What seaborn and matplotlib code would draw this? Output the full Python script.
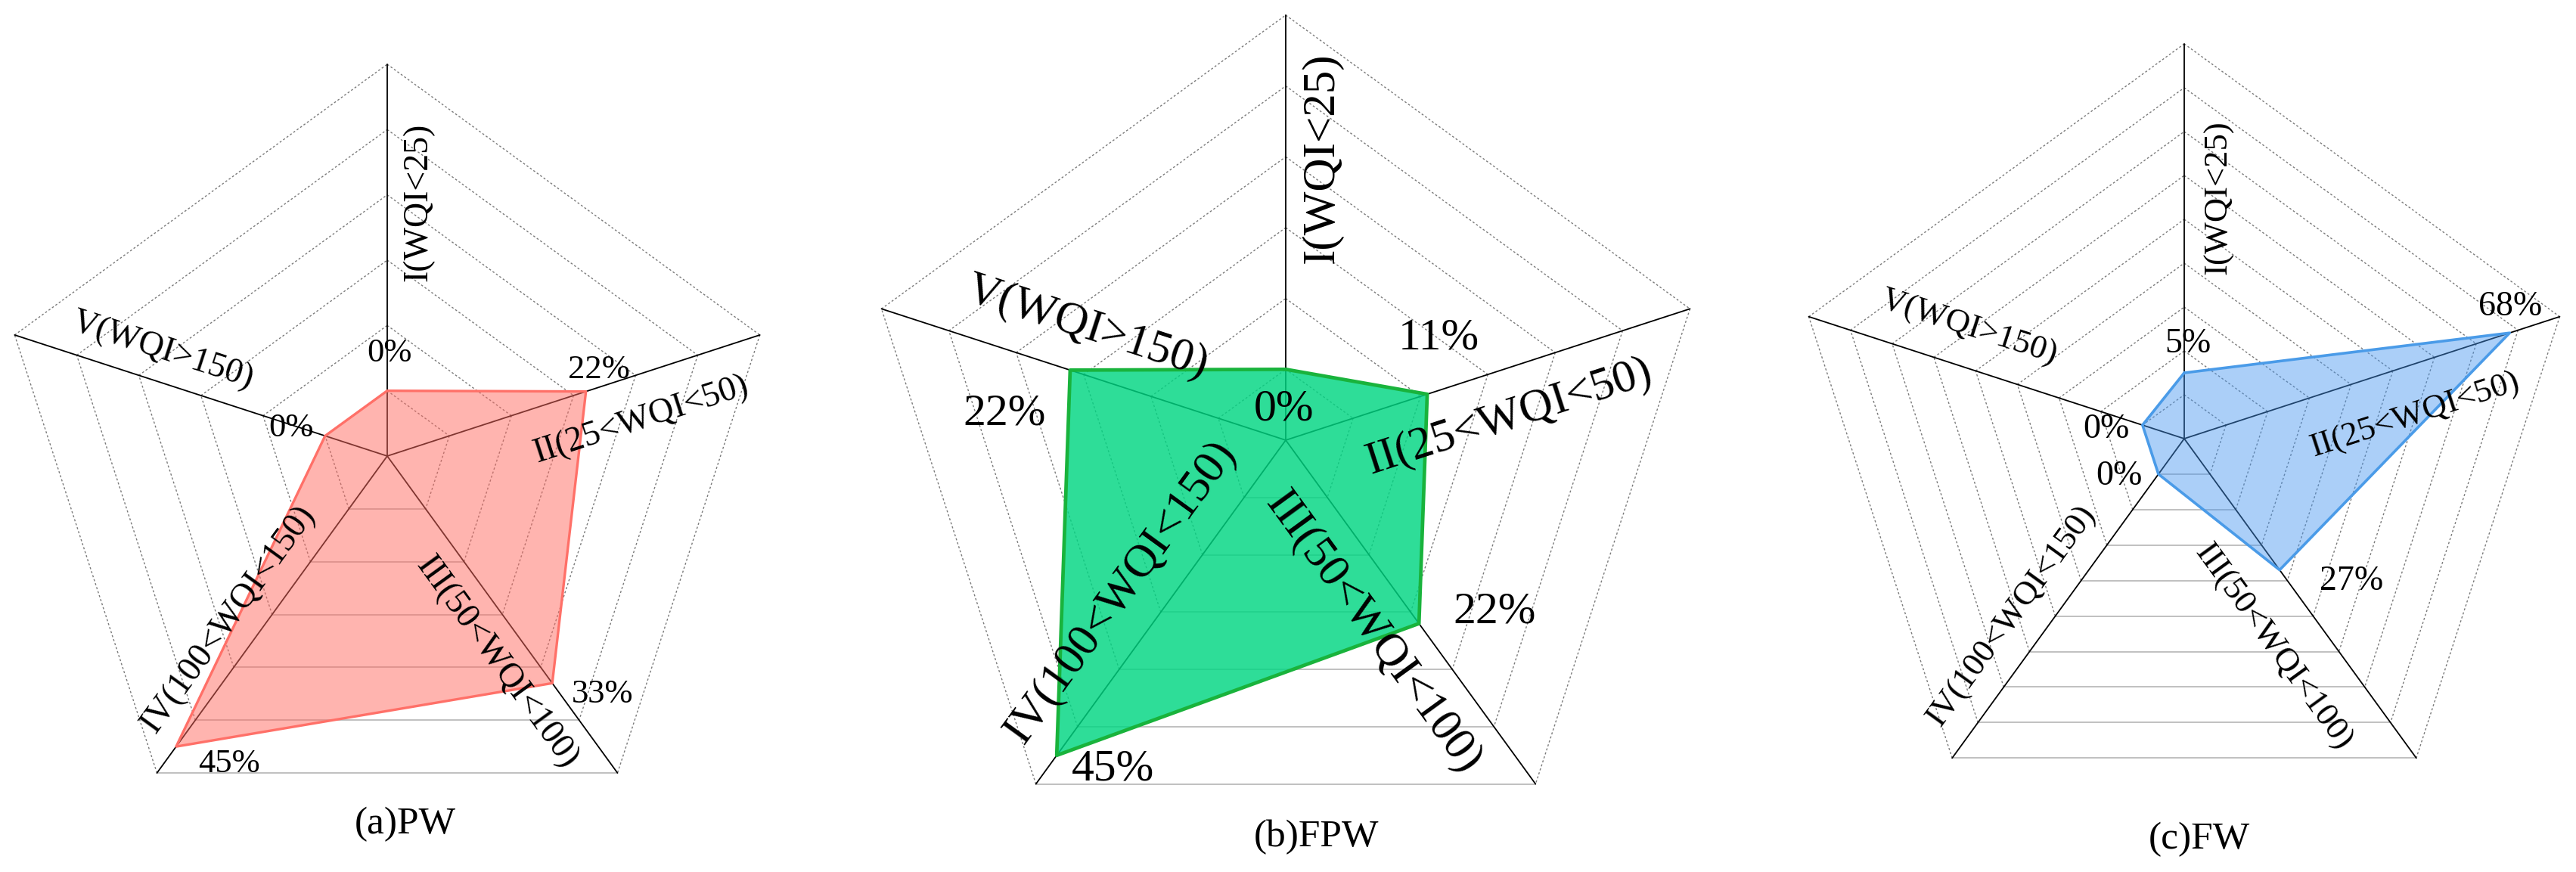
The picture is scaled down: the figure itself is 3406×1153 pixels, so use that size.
import numpy as np
import matplotlib
matplotlib.use("Agg")
import matplotlib.pyplot as plt
import seaborn as sns

sns.set_theme(style="white")
plt.rcParams['font.family'] = ['Liberation Serif', 'DejaVu Serif']

# data
categories = ["I(WQI<25)", "II(25<WQI<50)", "III(50<WQI<100)",
              "IV(100<WQI<150)", "V(WQI>150)"]
pw_values = [0, 22, 33, 45, 0]
fpw_values = [0, 11, 22, 45, 22]
fw_values = [5, 68, 27, 0, 0]
titles = ["(a)PW", "(b)FPW", "(c)FW"]

W, H = 3406, 1153
cat_rot = [90, 18, -54, 54, -18]


def radar(ax, values, vmin, vmax, rings, radius, face, face_alpha, edge,
          edge_w, cat_off, val_off, title, title_off, cat_fs, val_fs):
    """
    Draws one pentagon radar panel in pixel units around (0, 0)
    """
    ang = np.deg2rad(90 - 72 * np.arange(5))
    cos, sin = np.cos(ang), np.sin(ang)

    # pentagon grid
    for i in range(1, rings + 1):
        r = radius * i / rings
        xs, ys = r * cos, r * sin
        for k in range(5):
            j = (k + 1) % 5
            if k == 2:
                ax.plot([xs[k], xs[j]], [ys[k], ys[j]], color="#b5b5b5",
                        lw=1.2, zorder=1)
            else:
                ax.plot([xs[k], xs[j]], [ys[k], ys[j]], color="#7a7a7a",
                        lw=1.0, ls=(0, (2, 2)), zorder=1)

    # spokes
    for k in range(5):
        ax.plot([0, radius * cos[k]], [0, radius * sin[k]], color="black",
                lw=1.3, zorder=2)

    # data polygon
    r = (np.array(values) - vmin) / (vmax - vmin) * radius
    x, y = r * cos, r * sin
    ax.fill(x, y, color=face, alpha=face_alpha, lw=0, zorder=3)
    sns.lineplot(x=np.append(x, x[0]), y=np.append(y, y[0]), sort=False,
                 estimator=None, color=edge, lw=edge_w, ax=ax, zorder=4)

    # labels
    for k in range(5):
        dx, dy = cat_off[k]
        ax.text(dx, -dy, categories[k], rotation=cat_rot[k],
                rotation_mode="anchor", ha="center", va="center",
                fontsize=cat_fs, color="black", zorder=5, clip_on=False)
        dx, dy = val_off[k]
        ax.text(dx, -dy, f"{values[k]}%", ha="center", va="center",
                fontsize=val_fs, color="black", zorder=5, clip_on=False)
    ax.text(title_off[0], -title_off[1], title, ha="center", va="center",
            fontsize=37, color="black", clip_on=False)


fig = plt.figure(figsize=(W / 100, H / 100), dpi=100)
fig.patch.set_facecolor("white")

panels = [
    dict(x0=0, w=1135, cx=512, cy=603, values=pw_values, vmin=-10, vmax=50,
         rings=6, radius=518, face="#ff6a60", face_alpha=0.5,
         edge="#ff7068", edge_w=2.4,
         cat_off=[(41, -336), (336, -48), (145, 273), (-210, 216),
                  (-297, -139)],
         val_off=[(3, -136), (280, -114), (285, 315), (-209, 407),
                  (-127, -37)],
         title=titles[0], title_off=(24, 487), cat_fs=33, val_fs=32),
    dict(x0=1135, w=1135, cx=1700, cy=582, values=fpw_values, vmin=-10,
         vmax=50, rings=6, radius=562, face="#00d682", face_alpha=0.82,
         edge="#19b33c", edge_w=3.4,
         cat_off=[(48, -373), (296, -30), (115, 255), (-218, 201),
                  (-263, -149)],
         val_off=[(-2, -40), (202, -134), (276, 228), (-229, 435),
                  (-372, -34)],
         title=titles[1], title_off=(41, 525), cat_fs=44, val_fs=43),
    dict(x0=2270, w=1136, cx=2888, cy=580, values=fw_values, vmin=-10,
         vmax=80, rings=9, radius=522, face="#4696f0", face_alpha=0.45,
         edge="#4a9be8", edge_w=2.6,
         cat_off=[(45, -319), (305, -31), (117, 276), (-228, 235),
                  (-285, -147)],
         val_off=[(5, -125), (431, -174), (221, 189), (-86, 50),
                  (-103, -12)],
         title=titles[2], title_off=(20, 530), cat_fs=32, val_fs=33),
]

for p in panels:
    ax = fig.add_axes([p["x0"] / W, 0, p["w"] / W, 1])
    ax.set_xlim(p["x0"] - p["cx"], p["x0"] + p["w"] - p["cx"])
    ax.set_ylim(p["cy"] - H, p["cy"])
    ax.set_axis_off()
    radar(ax, p["values"], p["vmin"], p["vmax"], p["rings"], p["radius"],
          p["face"], p["face_alpha"], p["edge"], p["edge_w"], p["cat_off"],
          p["val_off"], p["title"], p["title_off"], p["cat_fs"],
          p["val_fs"])

fig.savefig("out.png", dpi=100, facecolor="white")
